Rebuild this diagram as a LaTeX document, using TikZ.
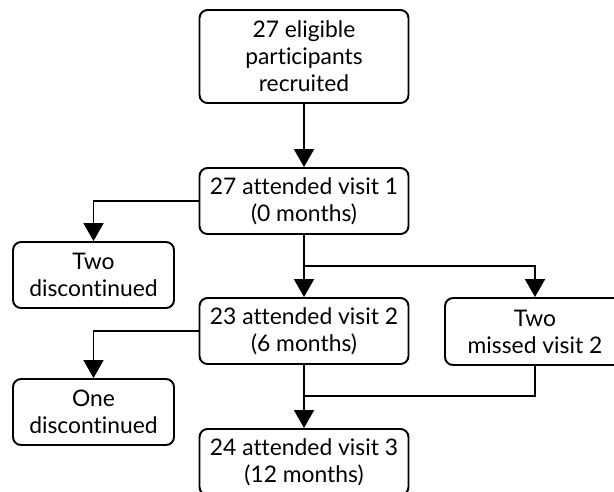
\documentclass[tikz,border=0pt]{standalone}
\usepackage{fontspec}
\setmainfont{Lato}[Ligatures=NoCommon]
\usepackage{tikz}
\usetikzlibrary{arrows.meta,positioning}

\begin{document}
\begin{tikzpicture}[x=0.02cm,y=-0.02cm,
		box/.style={draw,rounded corners=0.16cm,line width=1.1pt,align=center,inner sep=0pt,
			font=\fontsize{13}{15.4}\selectfont},
		link/.style={line width=1.1pt,-{Triangle[length=0.36cm,width=0.4cm]}}]
			\clip (0,0) rectangle (614,491);

			\node[box,minimum width=4.18cm,minimum height=1.86cm] (rec) at (304,56.5) {27 eligible\\participants\\recruited};
			\node[box,minimum width=4.18cm,minimum height=1.32cm] (v1) at (304,201) {27 attended visit 1\\(0 months)};
			\node[box,minimum width=3.22cm,minimum height=1.32cm] (d1) at (93.5,275) {Two\\discontinued};
			\node[box,minimum width=4.18cm,minimum height=1.32cm] (v2) at (304,331) {23 attended visit 2\\(6 months)};
			\node[box,minimum width=3.6cm,minimum height=1.34cm] (miss) at (535,331.5) {Two\\missed visit 2};
			\node[box,minimum width=3.22cm,minimum height=1.32cm] (d2) at (93.5,412) {One\\discontinued};
			\node[box,minimum width=4.18cm,minimum height=1.32cm] (v3) at (304,462) {24 attended visit 3\\(12 months)};

			\coordinate (j1) at (304,266);
			\coordinate (j2) at (304,396);

			\draw[link] (rec) -- (v1);
			\draw[link] (v1.west) -| (d1.north);
			\draw[line width=1.1pt] (v1.south) -- (j1);
			\draw[link] (j1) -- (v2.north);
			\draw[link] (j1) -| (miss.north);
			\draw[link] (v2.west) -| (d2.north);
			\draw[link] (v2.south) -- (v3.north);
			\draw[line width=1.1pt] (miss.south) |- (j2);
		\end{tikzpicture}
\end{document}
